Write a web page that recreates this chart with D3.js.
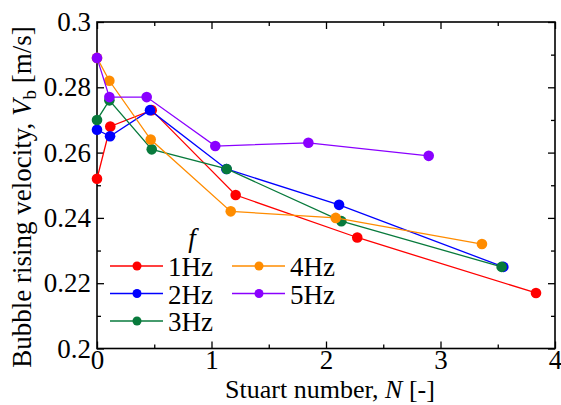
<!DOCTYPE html>
<html>
<head>
<meta charset="utf-8">
<script src="https://cdn.jsdelivr.net/npm/d3@7"></script>
</head>
<body style="margin:0; background:#fff">
<div id="chart-area"></div>
<script>

var width = 561,
    height = 405;

// Data: Stuart number N and rising velocity Vb
var labels = ["1Hz", "2Hz", "3Hz", "4Hz", "5Hz"];
var colors = ["#ff0000", "#0000ff", "#087a3c", "#ff8c00", "#8a00ff"];

var N1 = [0, 0.116, 0.478, 1.211, 2.273, 3.834];
var V1 = [0.252, 0.268, 0.273, 0.247, 0.234, 0.217];
var N2 = [0, 0.114, 0.463, 1.130, 2.114, 3.549];
var V2 = [0.267, 0.265, 0.273, 0.255, 0.244, 0.225];
var N3 = [0, 0.108, 0.478, 1.133, 2.134, 3.534];
var V3 = [0.270, 0.276, 0.261, 0.255, 0.239, 0.225];
var N4 = [0, 0.108, 0.469, 1.168, 2.085, 3.362];
var V4 = [0.289, 0.282, 0.264, 0.242, 0.240, 0.232];
var N5 = [0, 0.108, 0.434, 1.033, 1.846, 2.897];
var V5 = [0.289, 0.277, 0.277, 0.262, 0.263, 0.259];

var xTicks = [0, 1, 2, 3, 4];
var xMinor = [0.5, 1.5, 2.5, 3.5];
var yTicks = [0.2, 0.22, 0.24, 0.26, 0.28, 0.3];
var yMinor = [0.21, 0.23, 0.25, 0.27, 0.29];

var series = [
    {label: labels[0], color: colors[0], n: N1, v: V1},
    {label: labels[1], color: colors[1], n: N2, v: V2},
    {label: labels[2], color: colors[2], n: N3, v: V3},
    {label: labels[3], color: colors[3], n: N4, v: V4},
    {label: labels[4], color: colors[4], n: N5, v: V5}
];

var serif = "'Liberation Serif'";

var svg = d3.select("#chart-area").append("svg")
    .attr("width", width)
    .attr("height", height);

var x = d3.scaleLinear().domain([0, 4]).range([97, 555]);
var y = d3.scaleLinear().domain([0.2, 0.3]).range([348.5, 22]);

// Axes, ticks pointing inward on all four sides
function styleAxis(g) {
    g.select(".domain").remove();
    g.selectAll("line").attr("stroke", "#000").attr("stroke-width", 1.3);
    g.selectAll("text")
        .style("font-family", serif)
        .style("font-size", "27px")
        .attr("fill", "#000");
}

svg.append("g").attr("transform", "translate(0," + y(0.2) + ")")
    .call(d3.axisBottom(x).tickValues(xTicks).tickSize(-7).tickPadding(1.5).tickFormat(d3.format("d")))
    .call(styleAxis);
svg.append("g").attr("transform", "translate(0," + y(0.2) + ")")
    .call(d3.axisBottom(x).tickValues(xMinor).tickSize(-4).tickFormat(""))
    .call(styleAxis);
svg.append("g").attr("transform", "translate(0," + y(0.3) + ")")
    .call(d3.axisTop(x).tickValues(xTicks).tickSize(-7).tickFormat(""))
    .call(styleAxis);
svg.append("g").attr("transform", "translate(0," + y(0.3) + ")")
    .call(d3.axisTop(x).tickValues(xMinor).tickSize(-4).tickFormat(""))
    .call(styleAxis);

svg.append("g").attr("transform", "translate(" + x(0) + ",0)")
    .call(d3.axisLeft(y).tickValues(yTicks).tickSize(-7).tickPadding(6)
        .tickFormat(function(d) { return String(+d.toFixed(2)); }))
    .call(styleAxis);
svg.append("g").attr("transform", "translate(" + x(0) + ",0)")
    .call(d3.axisLeft(y).tickValues(yMinor).tickSize(-4).tickFormat(""))
    .call(styleAxis);
svg.append("g").attr("transform", "translate(" + x(4) + ",0)")
    .call(d3.axisRight(y).tickValues(yTicks).tickSize(-7).tickFormat(""))
    .call(styleAxis);
svg.append("g").attr("transform", "translate(" + x(4) + ",0)")
    .call(d3.axisRight(y).tickValues(yMinor).tickSize(-4).tickFormat(""))
    .call(styleAxis);

// Frame
svg.append("rect")
    .attr("x", x(0)).attr("y", y(0.3))
    .attr("width", x(4) - x(0)).attr("height", y(0.2) - y(0.3))
    .attr("fill", "none").attr("stroke", "#000").attr("stroke-width", 1.6);

// Series
var line = d3.line()
    .x(function(d) { return x(d[0]); })
    .y(function(d) { return y(d[1]); });

series.forEach(function(s) {
    var pts = d3.zip(s.n, s.v);
    svg.append("path")
        .datum(pts)
        .attr("d", line)
        .attr("fill", "none")
        .attr("stroke", s.color)
        .attr("stroke-width", 1.3);
    svg.selectAll(null)
        .data(pts)
        .enter().append("circle")
        .attr("cx", function(d) { return x(d[0]); })
        .attr("cy", function(d) { return y(d[1]); })
        .attr("r", 5.3)
        .attr("fill", s.color);
});

// Legend
svg.append("text")
    .attr("x", 192).attr("y", 247)
    .style("font-family", serif).style("font-size", "27px")
    .style("font-style", "italic")
    .attr("text-anchor", "middle")
    .text("f");

var legend = svg.selectAll(".legend")
    .data(series)
    .enter().append("g")
    .attr("class", "legend")
    .attr("transform", function(d, i) {
        var col = i < 3 ? 0 : 1,
            row = i < 3 ? i : i - 3;
        return "translate(" + (110 + col * 122) + "," + (266 + row * 27.5) + ")";
    });

legend.append("line")
    .attr("x1", 0).attr("x2", 53)
    .attr("stroke", function(d) { return d.color; })
    .attr("stroke-width", 1.5);
legend.append("circle")
    .attr("cx", 27).attr("r", 4.5)
    .attr("fill", function(d) { return d.color; });
legend.append("text")
    .attr("x", 58).attr("y", 10)
    .style("font-family", serif).style("font-size", "27px")
    .text(function(d) { return d.label; });

// Axis titles
var xt = svg.append("text")
    .attr("x", 330).attr("y", 398)
    .style("font-family", serif).style("font-size", "26px")
    .attr("text-anchor", "middle");
xt.append("tspan").text("Stuart number, ");
xt.append("tspan").style("font-style", "italic").text("N");
xt.append("tspan").text(" [-]");

var yt = svg.append("text")
    .attr("transform", "translate(31,197) rotate(-90)")
    .style("font-family", serif).style("font-size", "27px")
    .attr("text-anchor", "middle");
yt.append("tspan").text("Bubble rising velocity, ");
yt.append("tspan").style("font-style", "italic").text("V");
yt.append("tspan").style("font-size", "19px").attr("dy", 5).text("b");
yt.append("tspan").attr("dy", -5).text(" [m/s]");

</script>
</body>
</html>
